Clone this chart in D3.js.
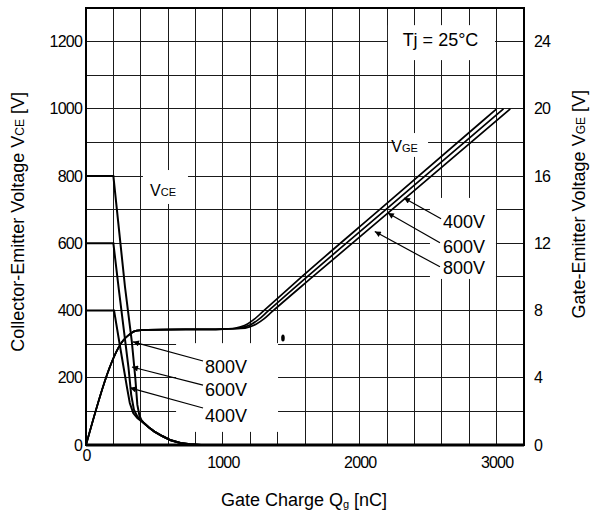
<!DOCTYPE html>
<html>
<head>
<meta charset="utf-8">
<script src="https://cdn.jsdelivr.net/npm/d3@7"></script>
<style>
body { margin: 0; background: #fff; }
svg { font-family: "Liberation Sans", Arial, sans-serif; }
</style>
</head>
<body>
<div id="chart-area"></div>
<script>
/*
*    gate charge chart (Tj = 25C)
*/

// axis ticks
var qgTicks = [0, 1000, 2000, 3000];
var vceTicks = [0, 200, 400, 600, 800, 1000, 1200];
var vgeTicks = [0, 4, 8, 12, 16, 20, 24];

// collector-emitter voltage [V] vs gate charge [nC]
var vce400 = [[0,400],[205,400],[250,290],[300,170],[320,125],[345,95],[375,80],[400,72],[420,66],[460,52],[500,40],[560,26],[620,14],[690,6],[760,2],[840,0],[3200,0]];
var vce600 = [[0,600],[200,600],[240,462],[310,232],[330,150],[350,105],[375,85],[400,74],[420,66],[460,52],[500,40],[560,26],[620,14],[690,6],[760,2],[840,0],[3200,0]];
var vce800 = [[0,800],[200,800],[285,470],[335,307],[360,200],[375,120],[390,88],[405,74],[420,67],[460,52],[500,40],[560,26],[620,14],[690,6],[760,2],[840,0],[3200,0]];

// gate-emitter voltage [V] vs gate charge [nC]
var vge400 = [[0,0],[270,6.2],[320,6.6],[370,6.8],[450,6.85],[1000,6.9],[1070,6.93],[1130,7.03],[1180,7.2],[1232,7.5],[1287,7.9],[1575,10],[2145,14],[3000,20]];
var vge600 = [[0,0],[270,6.2],[320,6.6],[370,6.8],[450,6.85],[1000,6.9],[1100,6.93],[1160,7.03],[1212,7.2],[1266,7.5],[1321,7.9],[1615,10],[2190,14],[3050,20]];
var vge800 = [[0,0],[270,6.2],[320,6.6],[370,6.8],[450,6.85],[1000,6.9],[1130,6.93],[1195,7.03],[1245,7.2],[1300,7.5],[1355,7.9],[1655,10],[2235,14],[3100,20]];

var supplyLabels = ["800V", "600V", "400V"];

var margin = { left: 86, right: 66, top: 8, bottom: 69 };
var width = 590 - margin.left - margin.right,
    height = 514 - margin.top - margin.bottom;

var svg = d3.select("#chart-area").append("svg")
    .attr("width", 590)
    .attr("height", 514);

var defs = svg.append("defs");
defs.append("marker")
    .attr("id", "arrow")
    .attr("viewBox", "0 0 10 10")
    .attr("refX", 10).attr("refY", 5)
    .attr("markerUnits", "userSpaceOnUse")
    .attr("markerWidth", 10).attr("markerHeight", 6)
    .attr("orient", "auto")
  .append("path")
    .attr("d", "M0,0L10,5L0,10z")
    .attr("fill", "#000");

var g = svg.append("g").attr("transform", "translate(" + margin.left + ", " + margin.top + ")");

var x = d3.scaleLinear().domain([0, 3200]).range([0, width]);
var y = d3.scaleLinear().domain([0, 1300]).range([height, 0]);
var yR = d3.scaleLinear().domain([0, 26]).range([height, 0]);

// grid
g.append("g").selectAll("line")
    .data(d3.range(200, 3200, 200))
    .enter().append("line")
    .attr("x1", (d) => x(d)).attr("x2", (d) => x(d))
    .attr("y1", 0).attr("y2", height)
    .attr("shape-rendering", "crispEdges")
    .attr("stroke", "#1a1a1a").attr("stroke-width", 1);
g.append("g").selectAll("line")
    .data(d3.range(100, 1300, 100))
    .enter().append("line")
    .attr("x1", 0).attr("x2", width)
    .attr("y1", (d) => y(d)).attr("y2", (d) => y(d))
    .attr("shape-rendering", "crispEdges")
    .attr("stroke", "#1a1a1a").attr("stroke-width", 1);

// white boxes behind labels (data units: qg0, qg1, v0, v1)
var boxes = [[2206, 2988, 1145, 1249], [2257, 2499, 857, 928], [416, 745, 717, 818], [2513, 2995, 494, 735], [658, 1403, 39, 303]];
g.append("g").selectAll("rect")
    .data(boxes)
    .enter().append("rect")
    .attr("x", (d) => x(d[0]))
    .attr("y", (d) => y(d[3]))
    .attr("width", (d) => x(d[1]) - x(d[0]))
    .attr("height", (d) => y(d[2]) - y(d[3]))
    .attr("fill", "#fff");

// curves
var lineV = d3.line().x((d) => x(d[0])).y((d) => y(d[1]));
var lineG = d3.line().x((d) => x(d[0])).y((d) => yR(d[1])).curve(d3.curveMonotoneX);

g.selectAll(".vce")
    .data([vce400, vce600, vce800])
    .enter().append("path")
    .attr("class", "vce")
    .attr("d", lineV)
    .attr("fill", "none").attr("stroke", "#000").attr("stroke-width", 2);

g.selectAll(".vge")
    .data([vge400, vge600, vge800])
    .enter().append("path")
    .attr("class", "vge")
    .attr("d", lineG)
    .attr("fill", "none").attr("stroke", "#000").attr("stroke-width", 1.7);

// frame
g.append("rect")
    .attr("width", width).attr("height", height)
    .attr("fill", "none").attr("stroke", "#000").attr("stroke-width", 2);
g.append("line")
    .attr("x1", 0).attr("x2", width).attr("y1", height).attr("y2", height)
    .attr("stroke", "#000").attr("stroke-width", 3);

// axes
var bottomAxis = d3.axisBottom(x).tickValues(qgTicks).tickSize(0).tickPadding(12).tickFormat(d3.format("d"));
var xAxisGroup = g.append("g").attr("transform", "translate(0, " + height + ")").call(bottomAxis);
var leftAxis = d3.axisLeft(y).tickValues(vceTicks).tickSize(0).tickPadding(4).tickFormat(d3.format("d"));
var yAxisGroup = g.append("g").call(leftAxis);
var rightAxis = d3.axisRight(yR).tickValues(vgeTicks).tickSize(0).tickPadding(10).tickFormat(d3.format("d"));
var yRAxisGroup = g.append("g").attr("transform", "translate(" + width + ", 0)").call(rightAxis);

[xAxisGroup, yAxisGroup, yRAxisGroup].forEach((a) => {
    a.select(".domain").remove();
    a.selectAll("text")
        .attr("font-family", "Liberation Sans, Arial, sans-serif")
        .attr("font-size", "16px")
        .attr("letter-spacing", "-0.8px")
        .attr("fill", "#000");
});
xAxisGroup.selectAll(".tick").filter((d) => d === 0).select("text").attr("y", 5);

// annotations
function sub(t, main, small, smallSize, dy) {
    t.append("tspan").text(main);
    t.append("tspan").attr("font-size", smallSize).attr("dy", dy || 0).text(small);
}

var tj = g.append("text")
    .attr("x", x(2590)).attr("y", y(1187))
    .attr("text-anchor", "middle")
    .attr("font-size", "18px")
    .text("Tj = 25°C");

var vceLab = g.append("text").attr("x", x(468)).attr("y", y(740)).attr("font-size", "16px");
sub(vceLab, "V", "CE", "11px");
var vgeLab = g.append("text").attr("x", x(2230)).attr("y", y(872)).attr("font-size", "16px");
sub(vgeLab, "V", "GE", "11px");

// left leaders (to VCE curves) and right leaders (to VGE curves)
var leftTips = [[343, 307], [336, 232], [321, 170]];
var leftFrom = [[855, 250], [855, 178], [855, 110]];
var leftText = [[869, 232], [869, 164], [869, 89]];
var rightTips = [[2323, 14.7], [2205, 13.8], [2110, 12.7]];
var rightFrom = [[2594, 13.46], [2586, 12.03], [2586, 10.6]];
var rightText = [[2608, 13.28], [2608, 11.79], [2608, 10.54]];
var rightLabels = ["400V", "600V", "800V"];

supplyLabels.forEach((lab, i) => {
    g.append("line")
        .attr("x1", x(leftFrom[i][0])).attr("y1", y(leftFrom[i][1]))
        .attr("x2", x(leftTips[i][0])).attr("y2", y(leftTips[i][1]))
        .attr("stroke", "#000").attr("stroke-width", 1.2)
        .attr("marker-end", "url(#arrow)");
    g.append("text")
        .attr("x", x(leftText[i][0])).attr("y", y(leftText[i][1]))
        .attr("dy", "0.36em").attr("font-size", "18px")
        .text(lab);
});
rightLabels.forEach((lab, i) => {
    g.append("line")
        .attr("x1", x(rightFrom[i][0])).attr("y1", yR(rightFrom[i][1]))
        .attr("x2", x(rightTips[i][0])).attr("y2", yR(rightTips[i][1]))
        .attr("stroke", "#000").attr("stroke-width", 1.2)
        .attr("marker-end", "url(#arrow)");
    g.append("text")
        .attr("x", x(rightText[i][0])).attr("y", yR(rightText[i][1]))
        .attr("dy", "0.36em").attr("font-size", "18px")
        .text(lab);
});

// scan speck
g.append("ellipse")
    .attr("cx", x(1439)).attr("cy", y(318))
    .attr("rx", 1.8).attr("ry", 3.5).attr("fill", "#000");

// axis titles
var xLabel = svg.append("text")
    .attr("x", 304).attr("y", 506)
    .attr("text-anchor", "middle")
    .attr("font-size", "18px");
xLabel.append("tspan").text("Gate Charge Q");
xLabel.append("tspan").attr("font-size", "11px").attr("dy", 2).text("g");
xLabel.append("tspan").attr("dy", -2).text(" [nC]");

var yLabel = svg.append("text")
    .attr("transform", "translate(24, 92) rotate(-90)")
    .attr("text-anchor", "end")
    .attr("font-size", "18px");
yLabel.append("tspan").text("Collector-Emitter Voltage V");
yLabel.append("tspan").attr("font-size", "12px").text("CE");
yLabel.append("tspan").text(" [V]");

var yRLabel = svg.append("text")
    .attr("transform", "translate(585, 90) rotate(-90)")
    .attr("text-anchor", "end")
    .attr("font-size", "18px");
yRLabel.append("tspan").text("Gate-Emitter Voltage V");
yRLabel.append("tspan").attr("font-size", "12px").text("GE");
yRLabel.append("tspan").text(" [V]");
</script>
</body>
</html>
